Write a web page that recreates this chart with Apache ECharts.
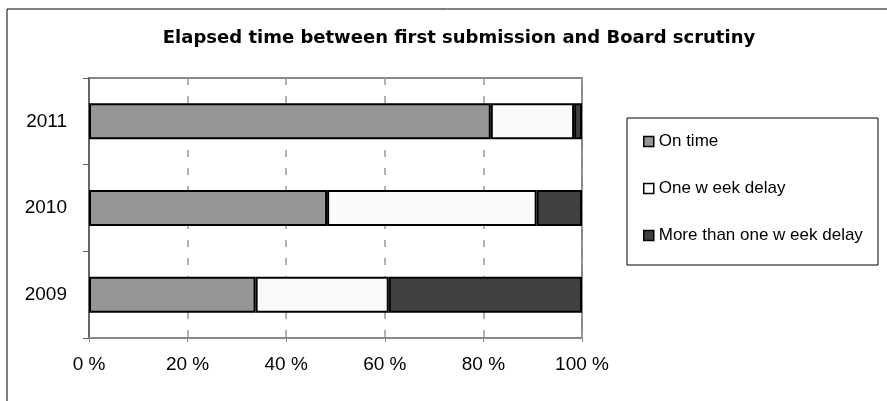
<!DOCTYPE html>
<html>
<head>
<meta charset="utf-8">
<script src="https://cdn.jsdelivr.net/npm/echarts@6/dist/echarts.min.js"></script>
<style>
html,body{margin:0;padding:0;background:#fff;}
#main{width:887px;height:401px;}
</style>
</head>
<body>
<div id="main"></div>
<script>
var titleText = 'Elapsed time between first submission and Board scrutiny';
var categories = ['2009', '2010', '2011'];
var seriesNames = ['On time', 'One w eek delay', 'More than one w eek delay'];
var onTime = [33.8, 48.3, 81.5];
var oneWeek = [27.0, 42.5, 16.9];
var moreThanWeek = [39.2, 9.2, 1.6];
var xTickLabels = ['0 %', '20 %', '40 %', '60 %', '80 %', '100 %'];
var colors = ['#969696', '#fafafa', '#404040'];

var chart = echarts.init(document.getElementById('main'));
var values = [onTime, oneWeek, moreThanWeek];
var series = seriesNames.map(function (n, i) {
  return {
    name: n,
    type: 'bar',
    stack: 'total',
    barWidth: 36,
    data: values[i],
    itemStyle: { color: colors[i], borderColor: '#000', borderWidth: 2 },
    emphasis: { disabled: true },
    animation: false
  };
});

chart.setOption({
  animation: false,
  textStyle: { fontFamily: 'Liberation Sans, Arial, sans-serif' },
  title: {
    text: titleText,
    left: 454,
    top: 24,
    textAlign: 'center',
    textStyle: { fontFamily: 'DejaVu Sans', fontWeight: 'bold', fontSize: 18, color: '#000' }
  },
  graphic: [
    { type: 'rect', shape: { x: 7, y: 9, width: 1000, height: 600 }, style: { fill: 'none', stroke: '#000', lineWidth: 1 }, z: -1 },
    { type: 'rect', shape: { x: 627, y: 118, width: 251, height: 147 }, style: { fill: '#fff', stroke: '#000', lineWidth: 1 }, z: 0 }
  ],
  legend: {
    orient: 'vertical',
    left: 643,
    top: 133,
    padding: 0,
    itemGap: 30,
    itemWidth: 10,
    itemHeight: 10,
    icon: 'rect',
    z: 5,
    itemStyle: { borderColor: '#000', borderWidth: 1.5 },
    textStyle: { fontFamily: 'Liberation Sans, Arial, sans-serif', fontSize: 17, color: '#000' },
    data: seriesNames
  },
  grid: {
    left: 89, right: 305, top: 78, bottom: 63,
    show: true, borderColor: '#888', borderWidth: 2, backgroundColor: '#fff'
  },
  xAxis: {
    type: 'value',
    min: 0, max: 100, interval: 20,
    axisLine: { show: true, lineStyle: { color: '#888', width: 2 } },
    axisTick: { show: true, length: 4, lineStyle: { color: '#888' } },
    splitLine: { show: true, lineStyle: { color: '#999', type: [7, 11], width: 1.5 } },
    axisLabel: {
      margin: 17, fontSize: 19, color: '#000',
      formatter: function (v) { return xTickLabels[Math.round(v / 20)]; }
    }
  },
  yAxis: {
    type: 'category',
    data: categories,
    axisLine: { show: true, lineStyle: { color: '#666', width: 2 } },
    axisTick: { show: true, length: 6, lineStyle: { color: '#666' } },
    axisLabel: { margin: 22, fontSize: 19, color: '#000' }
  },
  series: series
});
</script>
</body>
</html>
